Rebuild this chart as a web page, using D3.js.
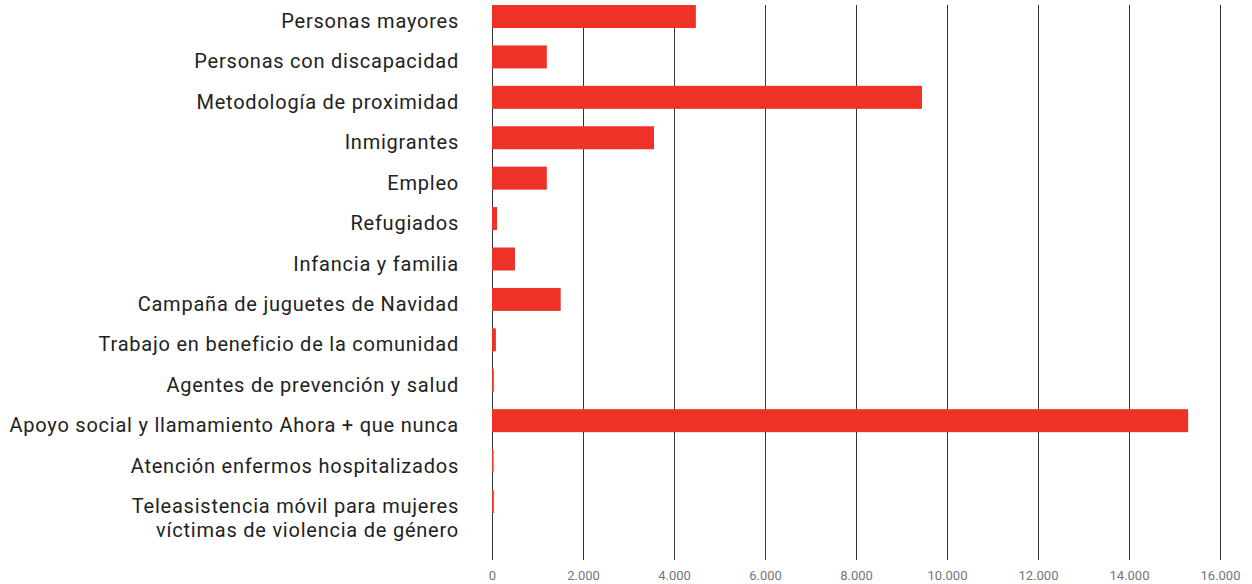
<!DOCTYPE html>
<html>
<head>
<meta charset="utf-8">
<script src="https://cdn.jsdelivr.net/npm/d3@7"></script>
<style>
  html, body { margin: 0; padding: 0; background: #fff; }
  svg { display: block; font-family: Roboto, "Noto Sans", sans-serif; }
</style>
</head>
<body>
<svg id="chart" width="1252" height="584"></svg>
<script>
const categories = [
  "Personas mayores",
  "Personas con discapacidad",
  "Metodología de proximidad",
  "Inmigrantes",
  "Empleo",
  "Refugiados",
  "Infancia y familia",
  "Campaña de juguetes de Navidad",
  "Trabajo en beneficio de la comunidad",
  "Agentes de prevención y salud",
  "Apoyo social y llamamiento Ahora + que nunca",
  "Atención enfermos hospitalizados",
  "Teleasistencia móvil para mujeres\nvíctimas de violencia de género"
];
const values = [4480, 1205, 9450, 3560, 1205, 110, 505, 1510, 85, 40, 15300, 20, 40];
const tickValues = [0, 2000, 4000, 6000, 8000, 10000, 12000, 14000, 16000];

const svg = d3.select("#chart");
const x = d3.scaleLinear().domain([0, 16000]).range([492, 1220]);
const y = d3.scaleBand().domain(categories).range([5, 513]).paddingInner(0.431).paddingOuter(0);

const locale = d3.formatLocale({decimal: ",", thousands: ".", grouping: [3], currency: ["", "€"]});
const fmt = locale.format(",d");

// gridlines
svg.append("g").selectAll("line").data(tickValues).join("line")
  .attr("x1", d => Math.round(x(d)) + 0.5).attr("x2", d => Math.round(x(d)) + 0.5)
  .attr("y1", 5).attr("y2", 560)
  .attr("stroke", "#333").attr("stroke-width", 1);

// x axis labels
const xAxis = d3.axisBottom(x).tickValues(tickValues).tickFormat(fmt).tickSize(0).tickPadding(0);
const gx = svg.append("g").attr("transform", "translate(0,571)").call(xAxis);
gx.select(".domain").remove();
gx.selectAll("text").attr("font-size", 13).attr("fill", "#757575")
  .attr("font-family", "Roboto, sans-serif").attr("dy", "0.71em");

// bars
svg.append("g").selectAll("rect").data(categories).join("rect")
  .attr("x", x(0))
  .attr("y", d => y(d))
  .attr("width", (d, i) => Math.max(1.5, x(values[i]) - x(0)))
  .attr("height", y.bandwidth())
  .attr("fill", "#ee3228");

// category labels
const lbl = svg.append("g").selectAll("text").data(categories).join("text")
  .attr("x", 459)
  .attr("y", d => y(d) + y.bandwidth() / 2 + 11.5)
  .attr("text-anchor", "end")
  .attr("font-size", 20)
  .attr("letter-spacing", "0.77px")
  .attr("fill", "#222");
lbl.each(function(d) {
  const lines = d.split("\n");
  const t = d3.select(this);
  lines.forEach((ln, k) => {
    t.append("tspan").attr("x", 459).attr("dy", k === 0 ? 0 : 24).text(ln);
  });
});
</script>
</body>
</html>
